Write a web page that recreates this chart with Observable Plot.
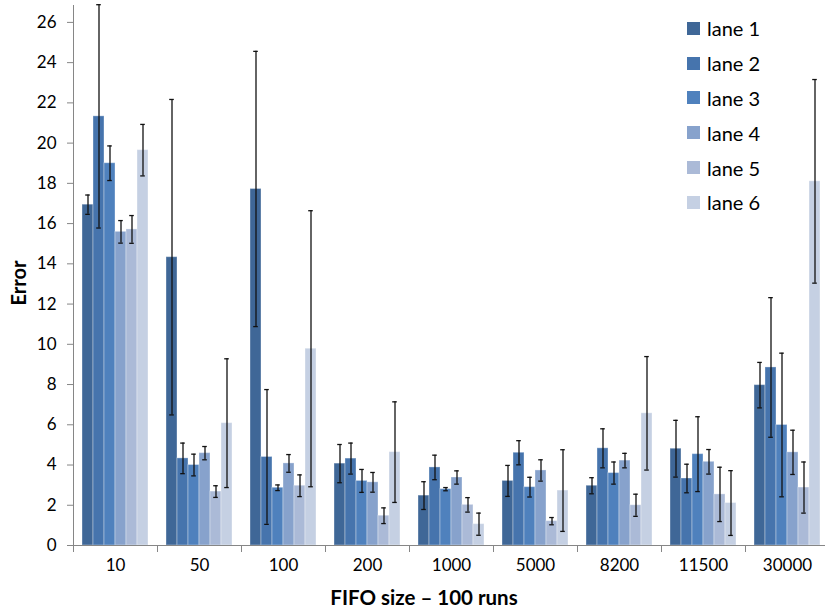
<!DOCTYPE html>
<html>
<head>
<meta charset="utf-8">
<script src="https://cdn.jsdelivr.net/npm/d3@7"></script>
<script src="https://cdn.jsdelivr.net/npm/@observablehq/plot@0.6"></script>
<style>
  body { margin: 0; background: #fff; font-family: Lato, "Open Sans", sans-serif; }
  #wrap { position: relative; width: 825px; height: 612px; overflow: hidden; }
  #legend { position: absolute; left: 687px; top: 11px; }
  .item { display: flex; align-items: center; height: 34.8px; font-size: 20px; color: #000; }
  .sw { width: 13px; height: 13px; margin-right: 7px; }
  #ytitle { position: absolute; left: 18px; top: 283px; transform: translate(-50%, -50%) rotate(-90deg);
            font-weight: bold; font-size: 20px; white-space: nowrap; color: #000; }
  #xtitle { position: absolute; left: 424px; top: 597px; transform: translate(-50%, -50%);
            font-weight: bold; font-size: 20.5px; white-space: nowrap; color: #000; }
</style>
</head>
<body>
<div id="wrap"></div>
<script>
const categories = ["10", "50", "100", "200", "1000", "5000", "8200", "11500", "30000"];
const lanes = ["lane 1", "lane 2", "lane 3", "lane 4", "lane 5", "lane 6"];
const laneColors = ["#3f6797", "#4674ad", "#4f81bd", "#87a2cc", "#abbad7", "#c5d0e3"];

const lane1 = [16.94, 14.33, 17.72, 4.07, 2.48, 3.21, 2.97, 4.81, 7.97];
const lane2 = [21.33, 4.33, 4.40, 4.32, 3.88, 4.61, 4.83, 3.33, 8.85];
const lane3 = [19.00, 4.00, 2.87, 3.21, 2.80, 2.90, 3.60, 4.54, 5.99];
const lane4 = [15.59, 4.59, 4.08, 3.14, 3.38, 3.73, 4.22, 4.16, 4.63];
const lane5 = [15.71, 2.68, 2.97, 1.48, 2.02, 1.21, 2.00, 2.54, 2.88];
const lane6 = [19.65, 6.08, 9.78, 4.64, 1.06, 2.73, 6.57, 2.11, 18.10];

const lane1Err = [0.48, 7.84, 6.84, 0.95, 0.69, 0.77, 0.40, 1.41, 1.13];
const lane2Err = [5.55, 0.76, 3.35, 0.77, 0.61, 0.60, 0.97, 0.71, 3.47];
const lane3Err = [0.86, 0.54, 0.14, 0.57, 0.08, 0.49, 0.55, 1.86, 3.57];
const lane4Err = [0.56, 0.33, 0.44, 0.49, 0.33, 0.53, 0.36, 0.61, 1.10];
const lane5Err = [0.69, 0.29, 0.54, 0.39, 0.36, 0.18, 0.55, 1.35, 1.27];
const lane6Err = [1.28, 3.20, 6.86, 2.50, 0.55, 2.03, 2.82, 1.61, 5.06];

const yTicks = [0, 2, 4, 6, 8, 10, 12, 14, 16, 18, 20, 22, 24, 26];

const values = [lane1, lane2, lane3, lane4, lane5, lane6];
const errs = [lane1Err, lane2Err, lane3Err, lane4Err, lane5Err, lane6Err];
const rows = categories.flatMap((c, i) =>
  lanes.map((l, j) => ({category: c, lane: l, value: values[j][i], err: errs[j][i]}))
);

const chart = Plot.plot({
  width: 825,
  height: 612,
  marginLeft: 71,
  marginRight: -5.6,
  marginTop: 5,
  marginBottom: 67,
  style: {fontFamily: "Lato, 'Open Sans', sans-serif", fontSize: "17px", color: "#000", background: "transparent", overflow: "visible"},
  fx: {domain: categories, padding: 0, label: null},
  x: {domain: lanes, paddingInner: 0, paddingOuter: 0.725, axis: null},
  y: {domain: [0, 26.84], axis: null},
  color: {domain: lanes, range: laneColors},
  marks: [
    Plot.barY(rows, {fx: "category", x: "lane", y: "value", fill: "lane",
      stroke: "white", strokeOpacity: 0.35, strokeWidth: 1}),
    Plot.ruleX(rows, {fx: "category", x: "lane", y1: d => d.value - d.err, y2: d => d.value + d.err,
      stroke: "#111", strokeWidth: 1.3}),
    Plot.tickY(rows, {fx: "category", x: "lane", y: d => d.value + d.err,
      insetLeft: 3.2, insetRight: 3.2, stroke: "#111", strokeWidth: 1.3}),
    Plot.tickY(rows, {fx: "category", x: "lane", y: d => d.value - d.err,
      insetLeft: 3.2, insetRight: 3.2, stroke: "#111", strokeWidth: 1.3}),
    Plot.ruleY([0], {stroke: "#868686", strokeWidth: 1}),
    Plot.frame({anchor: "left", stroke: "#868686", strokeWidth: 1, insetTop: 540, insetBottom: -6}),
    Plot.frame({anchor: "left", stroke: "#868686", strokeWidth: 1, facet: "super"}),
    Plot.axisY({ticks: yTicks, tickSize: 6, tickPadding: 11, stroke: "#868686", label: null, fontSize: 17}),
    Plot.axisFx({anchor: "bottom", tickSize: 0, tickPadding: 13, label: null, fontSize: 17})
  ]
});

const wrap = document.getElementById("wrap");
wrap.appendChild(chart);

const legend = document.createElement("div");
legend.id = "legend";
lanes.forEach((l, j) => {
  const item = document.createElement("div");
  item.className = "item";
  const sw = document.createElement("span");
  sw.className = "sw";
  sw.style.background = laneColors[j];
  const t = document.createElement("span");
  t.textContent = l;
  item.appendChild(sw);
  item.appendChild(t);
  legend.appendChild(item);
});
wrap.appendChild(legend);

const yt = document.createElement("div");
yt.id = "ytitle";
yt.textContent = "Error";
wrap.appendChild(yt);

const xt = document.createElement("div");
xt.id = "xtitle";
xt.textContent = "FIFO size – 100 runs";
wrap.appendChild(xt);
</script>
</body>
</html>
